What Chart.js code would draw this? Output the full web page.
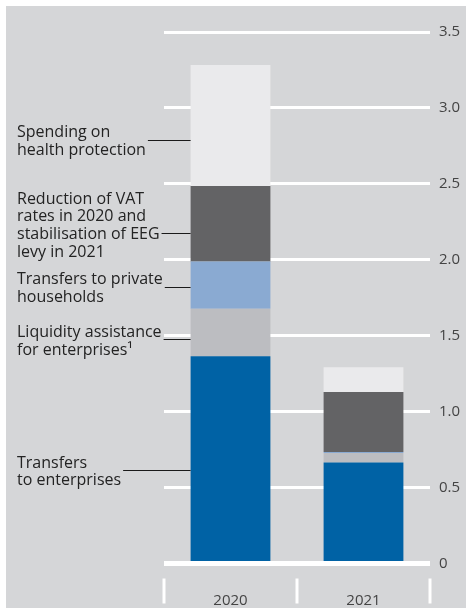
<!DOCTYPE html>
<html>
<head>
<meta charset="utf-8">
<script src="https://cdn.jsdelivr.net/npm/chart.js@4/dist/chart.umd.min.js"></script>
<style>
  html, body { margin: 0; padding: 0; background: #ffffff; }
  canvas { display: block; }
</style>
</head>
<body>
<canvas id="chart" width="466" height="609"></canvas>
<script>
// Kategori dan nilai seri (bagian bawah ke atas tumpukan)
const years = ['2020', '2021'];
const transfersEnterprises = [1.364, 0.665];
const liquidityAssistance = [0.313, 0.062];
const transfersHouseholds = [0.312, 0.008];
const vatReduction = [0.497, 0.394];
const healthSpending = [0.796, 0.163];
const yTicks = [0, 0.5, 1.0, 1.5, 2.0, 2.5, 3.0, 3.5];

// Teks label di sebelah kiri
const labelHealth = ['Spending on', 'health protection'];
const labelVat = ['Reduction of VAT', 'rates in 2020 and', 'stabilisation of EEG', 'levy in 2021'];
const labelHouseholds = ['Transfers to private', 'households'];
const labelLiquidity = ['Liquidity assistance', 'for enterprises\u00b9'];
const labelEnterprises = ['Transfers', 'to enterprises'];

const FONT = '"Open Sans", "DejaVu Sans", sans-serif';

// Posisi garis penunjuk (dalam satuan sumbu y) dan baris yang ditunjuk
const leaders = [
  { lines: labelHealth, at: 2.79, attach: 0.5 },
  { lines: labelVat, at: 2.175, attach: 2 },
  { lines: labelHouseholds, at: 1.82, attach: 0.5 },
  { lines: labelLiquidity, at: 1.477, attach: 0.45 },
  { lines: labelEnterprises, at: 0.614, attach: 0.47 }
];

const panelPlugin = {
  id: 'panel',
  beforeDraw(chart) {
    const c = chart.ctx;
    c.save();
    c.fillStyle = '#ffffff';
    c.fillRect(0, 0, chart.width, chart.height);
    c.fillStyle = '#d5d6d8';
    c.fillRect(6, 6, chart.width - 6, chart.height - 7);
    c.restore();
  },
  afterDraw(chart) {
    const c = chart.ctx;
    const x = chart.scales.x;
    const y = chart.scales.y;

    // pemisah kategori di bawah garis nol
    const p0 = x.getPixelForValue(0);
    const p1 = x.getPixelForValue(1);
    const seps = [x.left, (p0 + p1) / 2, x.right];
    c.save();
    c.strokeStyle = '#ffffff';
    c.lineWidth = 3;
    seps.forEach(sx => {
      c.beginPath();
      c.moveTo(sx, y.bottom + 15);
      c.lineTo(sx, y.bottom + 40);
      c.stroke();
    });

    // label kiri dengan garis penunjuk
    const bar = chart.getDatasetMeta(0).data[0];
    const barLeft = bar.x - bar.width / 2;
    const lineH = 17.7;
    c.font = '16px ' + FONT;
    c.fillStyle = '#232323';
    c.textBaseline = 'middle';
    c.textAlign = 'left';
    leaders.forEach(l => {
      const ly = Math.round(y.getPixelForValue(l.at)) + 0.5;
      let maxW = 0;
      l.lines.forEach((t, i) => {
        const ty = ly + (i - l.attach) * lineH + 1;
        c.fillText(t, 17, ty);
        const w = c.measureText(t).width;
        if (Math.abs(i - l.attach) < 1 && w > maxW) maxW = w;
      });
      c.strokeStyle = '#1a1a1a';
      c.lineWidth = 1;
      c.beginPath();
      c.moveTo(17 + maxW + 2, ly);
      c.lineTo(barLeft, ly);
      c.stroke();
    });
    c.restore();
  }
};

const ds = (label, data, color) => ({
  label, data, backgroundColor: color, borderWidth: 0,
  categoryPercentage: 1, barPercentage: 0.6
});

new Chart(document.getElementById('chart'), {
  type: 'bar',
  data: {
    labels: years,
    datasets: [
      ds('Transfers to enterprises', transfersEnterprises, '#0062a5'),
      ds('Liquidity assistance for enterprises', liquidityAssistance, '#bcbdc1'),
      ds('Transfers to private households', transfersHouseholds, '#8aaad2'),
      ds('Reduction of VAT rates / EEG levy', vatReduction, '#636365'),
      ds('Spending on health protection', healthSpending, '#eaeaec')
    ]
  },
  options: {
    responsive: false,
    animation: false,
    devicePixelRatio: 1,
    layout: { padding: { top: 32, left: 164, right: 0, bottom: 0 } },
    plugins: { legend: { display: false }, tooltip: { enabled: false } },
    scales: {
      x: {
        stacked: true,
        grid: { display: false },
        border: { display: false },
        ticks: { color: '#444', font: { family: FONT, size: 15 }, padding: 20 },
        afterFit(scale) { scale.height = 45.5; }
      },
      y: {
        stacked: true,
        position: 'right',
        min: 0,
        max: 3.5,
        afterBuildTicks(scale) { scale.ticks = yTicks.map(v => ({ value: v })); },
        grid: {
          color: '#ffffff',
          lineWidth: ctx => (ctx.tick && ctx.tick.value === 0 ? 5 : 3),
          drawTicks: false
        },
        border: { display: false },
        ticks: {
          color: '#444',
          font: { family: FONT, size: 15 },
          padding: 9,
          callback: v => (v === 0 ? '0' : v.toFixed(1))
        },
        afterFit(scale) { scale.width = 36; }
      }
    }
  },
  plugins: [panelPlugin]
});
</script>
</body>
</html>
